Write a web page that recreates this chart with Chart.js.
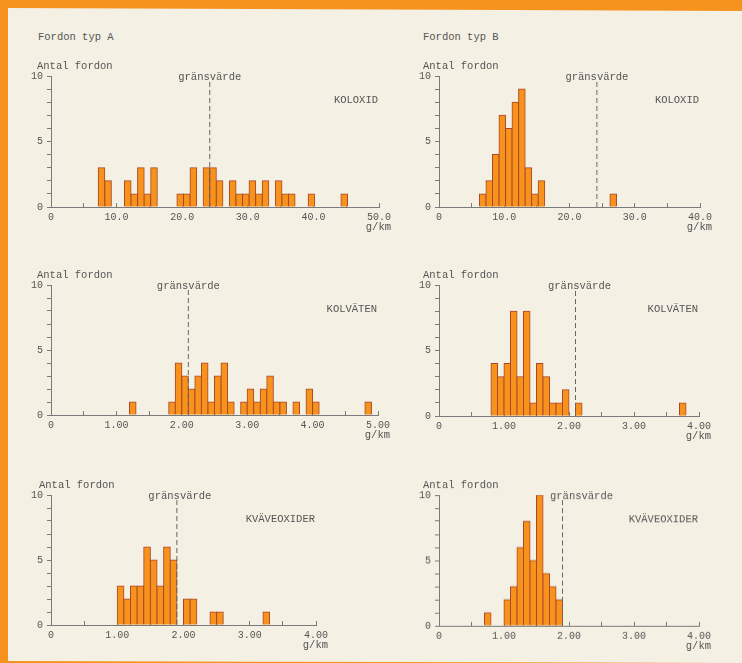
<!DOCTYPE html>
<html><head><meta charset="utf-8">
<script src="https://cdn.jsdelivr.net/npm/chart.js@4.4.1/dist/chart.umd.min.js"></script>
<style>
html,body{margin:0;padding:0;}
body{width:742px;height:663px;background:#f6921e;position:relative;overflow:hidden;font-family:'Liberation Mono',monospace;}
#paper{position:absolute;left:0;top:0;width:742px;height:663px;background:#f4f0e4;
  clip-path:polygon(8px 8px, 742px 11px, 742px 663px, 8px 661px);}
canvas{position:absolute;}
.lbl{position:absolute;font-size:10.5px;color:#555;line-height:12px;white-space:pre;}
</style></head><body>
<div id="paper"></div>
<div class="lbl" style="left:38px;top:30.5px">Fordon typ A</div>
<div class="lbl" style="left:423px;top:31px">Fordon typ B</div>
<canvas id="c1"></canvas><canvas id="c2"></canvas>
<canvas id="c3"></canvas><canvas id="c4"></canvas>
<canvas id="c5"></canvas><canvas id="c6"></canvas>
<script>
// ---- Data (bin lower edges and vehicle counts) ----
const CO_LIMIT = 24.2, HC_LIMIT = 2.1, NOX_LIMIT = 1.9;

const coA_bins   = [7.2,8.2,11.2,12.2,13.2,14.2,15.2,19.2,20.2,21.2,23.2,24.2,25.2,27.2,28.2,29.2,30.2,31.2,32.2,34.2,35.2,36.2,39.2,44.2];
const coA_counts = [3,2,2,1,3,1,3,1,1,3,3,3,2,2,1,1,2,1,2,2,1,1,1,1];

const coB_bins   = [6.2,7.2,8.2,9.2,10.2,11.2,12.2,13.2,14.2,15.2,26.2];
const coB_counts = [1,2,4,7,6,8,9,3,1,2,1];

const hcA_bins   = [1.2,1.8,1.9,2.0,2.1,2.2,2.3,2.4,2.5,2.6,2.7,2.9,3.0,3.1,3.2,3.3,3.4,3.5,3.7,3.9,4.0,4.8];
const hcA_counts = [1,1,4,3,2,3,4,1,3,4,1,1,2,1,2,3,1,1,1,2,1,1];

const hcB_bins   = [0.8,0.9,1.0,1.1,1.2,1.3,1.4,1.5,1.6,1.7,1.8,1.9,2.1,3.7];
const hcB_counts = [4,3,4,8,3,8,1,4,3,1,1,2,1,1];

const noxA_bins   = [1.0,1.1,1.2,1.3,1.4,1.5,1.6,1.7,1.8,2.0,2.1,2.4,2.5,3.2];
const noxA_counts = [3,2,3,3,6,5,3,6,5,2,2,1,1,1];

const noxB_bins   = [0.7,1.0,1.1,1.2,1.3,1.4,1.5,1.6,1.7,1.8];
const noxB_counts = [1,2,3,6,8,5,10,4,3,2];

const yTickLabels = [0, 5, 10];

// ---- Layout of panels (plot-area pixels) ----
const panels = [
  {id:'c1', L:51,  T:76,    R:379, B:207,   bins:coA_bins,  counts:coA_counts,  w:1,   max:50, step:5,   major:10, dec:1, limit:CO_LIMIT,  title:'KOLOXID',     antalDx:-14, limDx:0},
  {id:'c2', L:439, T:76,    R:700, B:207,   bins:coB_bins,  counts:coB_counts,  w:1,   max:40, step:5,   major:10, dec:1, limit:CO_LIMIT,  title:'KOLOXID',     antalDx:-16, limDx:0},
  {id:'c3', L:51,  T:284.5, R:378, B:415,   bins:hcA_bins,  counts:hcA_counts,  w:0.1, max:5,  step:0.5, major:1,  dec:2, limit:HC_LIMIT,  title:'KOLVÄTEN',    antalDx:-14, limDx:0},
  {id:'c4', L:439, T:284.5, R:699, B:415.5, bins:hcB_bins,  counts:hcB_counts,  w:0.1, max:4,  step:0.5, major:1,  dec:2, limit:HC_LIMIT,  title:'KOLVÄTEN',    antalDx:-16, limDx:4},
  {id:'c5', L:51,  T:494.5, R:316, B:625,   bins:noxA_bins, counts:noxA_counts, w:0.1, max:4,  step:0.5, major:1,  dec:2, limit:NOX_LIMIT, title:'KVÄVEOXIDER', antalDx:-12, limDx:3},
  {id:'c6', L:439, T:495,   R:699, B:625.5, bins:noxB_bins, counts:noxB_counts, w:0.1, max:4,  step:0.5, major:1,  dec:2, limit:NOX_LIMIT, title:'KVÄVEOXIDER', antalDx:-16, limDx:19}
];

const PAD_L = 4, Y_W = 30, PAD_T = 20, PAD_R = 30, X_H = 32, PAD_B = 4;
const FONT = "'Liberation Mono', monospace";
const TXT = '#555', AX = '#7a7a7a';

const textPlugin = {
  id: 'panelText',
  afterDraw(chart, args, o) {
    const {ctx, chartArea: a} = chart;
    const x = chart.scales.x;
    ctx.save();
    ctx.fillStyle = TXT;
    ctx.font = "10.5px " + FONT;
    ctx.textBaseline = 'middle';
    ctx.textAlign = 'left';
    ctx.fillText('Antal fordon', a.left + o.antalDx, a.top - 9.5);
    ctx.textAlign = 'center';
    ctx.fillText('gränsvärde', x.getPixelForValue(o.limit) + o.limDx, a.top + 1);
    ctx.textAlign = 'right';
    ctx.fillText(o.title, a.right - 1, a.top + 24);
    ctx.fillText('g/km', a.right + 12, a.bottom + 20);
    ctx.restore();
  }
};

panels.forEach(p => {
  const cv = document.getElementById(p.id);
  const W = PAD_L + Y_W + (p.R - p.L) + PAD_R;
  const H = PAD_T + (p.B - p.T) + X_H + PAD_B;
  cv.width = W; cv.height = H;
  cv.style.left = (p.L - PAD_L - Y_W) + 'px';
  cv.style.top = (p.T - PAD_T) + 'px';
  cv.style.width = W + 'px'; cv.style.height = H + 'px';

  const barData = p.bins.map((b, i) => ({x: +(b + p.w / 2).toFixed(4), y: p.counts[i]}));
  const limData = [{x: p.limit, y: 0}, {x: p.limit, y: 9.65}];

  new Chart(cv, {
    type: 'bar',
    data: {
      datasets: [
        {type: 'line', data: limData, borderColor: '#666', borderWidth: 1, borderDash: [5, 3],
         pointRadius: 0, fill: false, order: 0},
        {type: 'bar', data: barData, backgroundColor: '#f7921c', borderColor: '#a8482a',
         borderWidth: 1, borderSkipped: 'start', inflateAmount: 0.5,
         barPercentage: 1, categoryPercentage: 1, order: 1}
      ]
    },
    options: {
      responsive: false, animation: false, devicePixelRatio: 1,
      layout: {padding: {left: PAD_L, top: PAD_T, right: PAD_R, bottom: PAD_B}},
      plugins: {legend: {display: false}, tooltip: {enabled: false},
        panelText: {limit: p.limit, title: p.title, antalDx: p.antalDx, limDx: p.limDx}},
      scales: {
        x: {
          type: 'linear', min: 0, max: p.max, offset: false,
          grid: {offset: false, drawOnChartArea: false, drawTicks: true, tickLength: -4, color: AX, lineWidth: 1},
          border: {display: true, color: AX, width: 1},
          ticks: {
            stepSize: p.step, autoSkip: false, maxRotation: 0, minRotation: 0, padding: 8,
            color: TXT, font: {family: FONT, size: 10},
            callback: v => {
              if (Math.abs(v) < 1e-9) return '0';
              const r = v / p.major;
              return Math.abs(r - Math.round(r)) < 1e-6 ? v.toFixed(p.dec) : '';
            }
          },
          afterFit: s => { s.height = X_H; }
        },
        y: {
          type: 'linear', min: 0, max: 10,
          grid: {drawOnChartArea: false, drawTicks: true, tickLength: 4, color: AX, lineWidth: 1},
          border: {display: true, color: AX, width: 1},
          ticks: {
            stepSize: 1, autoSkip: false, padding: 4, color: TXT, font: {family: FONT, size: 10},
            callback: v => yTickLabels.includes(v) ? String(v) : ''
          },
          afterFit: s => { s.width = Y_W; }
        }
      }
    },
    plugins: [textPlugin]
  });
});
</script>
</body></html>
